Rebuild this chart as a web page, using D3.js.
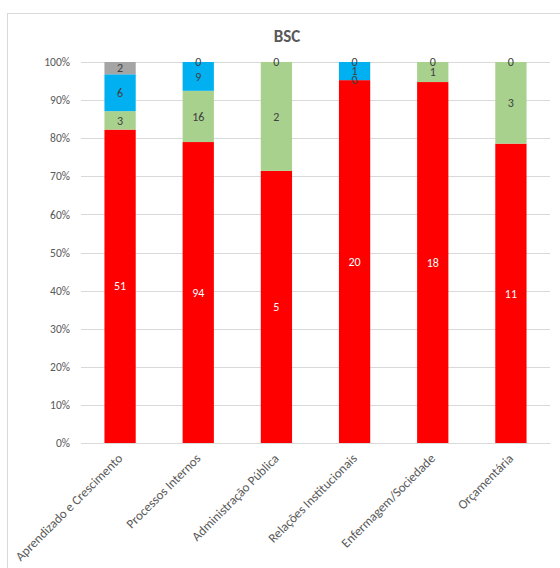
<!DOCTYPE html>
<html>
<head>
<meta charset="utf-8">
<script src="https://cdn.jsdelivr.net/npm/d3@7"></script>
<style>
  body { margin: 0; background: #fff; }
  text { font-family: Calibri, Carlito, Lato, "Open Sans", sans-serif; }
</style>
</head>
<body>
<svg id="chart" width="560" height="568"></svg>
<script>
const title = "BSC";
const categories = ["Aprendizado e Crescimento", "Processos Internos", "Administração Pública", "Relações Institucionais", "Enfermagem/Sociedade", "Orçamentária"];
const seriesNames = ["Vermelho", "Verde", "Azul", "Cinza"];
const redValues   = [51, 94, 5, 20, 18, 11];
const greenValues = [3, 16, 2, 0, 1, 3];
const blueValues  = [6, 9, 0, 1, 0, 0];
const grayValues  = [2, 0, 0, 0, 0, 0];
const seriesColors = ["#FF0000", "#A9D18E", "#00B0F0", "#A5A5A5"];
const labelColors = ["#FFFFFF", "#404040", "#404040", "#404040"];
const yTicks = [0, 0.1, 0.2, 0.3, 0.4, 0.5, 0.6, 0.7, 0.8, 0.9, 1.0];

const FONT = "Calibri, Carlito, Lato, 'Open Sans', sans-serif";
const svg = d3.select("#chart");
const plotL = 81, plotR = 550, plotT = 62, plotB = 443;

// frame
svg.append("rect").attr("x", 7.5).attr("y", 13.5).attr("width", 600).attr("height", 600)
  .attr("fill", "#fff").attr("stroke", "#D9D9D9").attr("stroke-width", 1);

svg.append("text").attr("x", 287).attr("y", 42).attr("text-anchor", "middle")
  .attr("font-size", 17).attr("font-weight", "bold").attr("fill", "#595959").text(title);

const x = d3.scaleBand().domain(categories).range([plotL, plotR]).paddingInner(0.6).paddingOuter(0.3);
const y = d3.scaleLinear().domain([0, 1]).range([plotB, plotT]);

// gridlines
svg.append("g").selectAll("line").data(yTicks).join("line")
  .attr("x1", plotL).attr("x2", plotR)
  .attr("y1", d => Math.round(y(d)) + 0.5).attr("y2", d => Math.round(y(d)) + 0.5)
  .attr("stroke", "#D9D9D9").attr("stroke-width", 1);

// y axis labels
const yAxis = d3.axisLeft(y).tickValues(yTicks).tickFormat(d3.format(".0%")).tickSize(0).tickPadding(11);
const ya = svg.append("g").attr("transform", `translate(${plotL},0)`).call(yAxis);
ya.select(".domain").remove();
ya.selectAll("text").attr("font-size", 11.5).attr("fill", "#595959").style("font-family", FONT);

const allSeries = [redValues, greenValues, blueValues, grayValues];
const table = categories.map((c, i) => {
  const o = { cat: c };
  seriesNames.forEach((s, k) => o[s] = allSeries[k][i]);
  return o;
});
const stack = d3.stack().keys(seriesNames).offset(d3.stackOffsetExpand);
const stacked = stack(table);

const gBars = svg.append("g");
stacked.forEach((layer, k) => {
  gBars.append("g").attr("fill", seriesColors[k]).selectAll("rect").data(layer).join("rect")
    .attr("x", d => x(d.data.cat))
    .attr("width", x.bandwidth())
    .attr("y", d => y(d[1]))
    .attr("height", d => Math.max(0, y(d[0]) - y(d[1])));
});

// labels (zero labels that coincide exactly with another zero label are drawn once)
const labels = [];
const seen = new Set();
stacked.forEach((layer, k) => {
  layer.forEach(d => {
    const v = d.data[layer.key];
    const pos = (d[0] + d[1]) / 2;
    const key = d.data.cat + "|" + pos.toFixed(6);
    if (v === 0 && seen.has(key)) return;
    seen.add(key);
    labels.push({ cat: d.data.cat, pos, v, k });
  });
});
svg.append("g").selectAll("text").data(labels).join("text")
  .attr("x", d => x(d.cat) + x.bandwidth() / 2)
  .attr("y", d => y(d.pos))
  .attr("dy", "0.35em")
  .attr("text-anchor", "middle")
  .attr("font-size", 12)
  .attr("fill", d => labelColors[d.k])
  .text(d => d.v);

// x axis labels
const xa = svg.append("g").attr("transform", `translate(0,${plotB})`)
  .call(d3.axisBottom(x).tickSize(0).tickPadding(0));
xa.select(".domain").attr("stroke", "#D9D9D9");
xa.selectAll("text")
  .attr("font-size", 13).attr("fill", "#595959")
  .style("font-family", FONT)
  .attr("text-anchor", "end")
  .attr("y", 0)
  .attr("transform", "translate(0,13) rotate(-45)")
  .attr("dy", "0.35em");
</script>
</body>
</html>
